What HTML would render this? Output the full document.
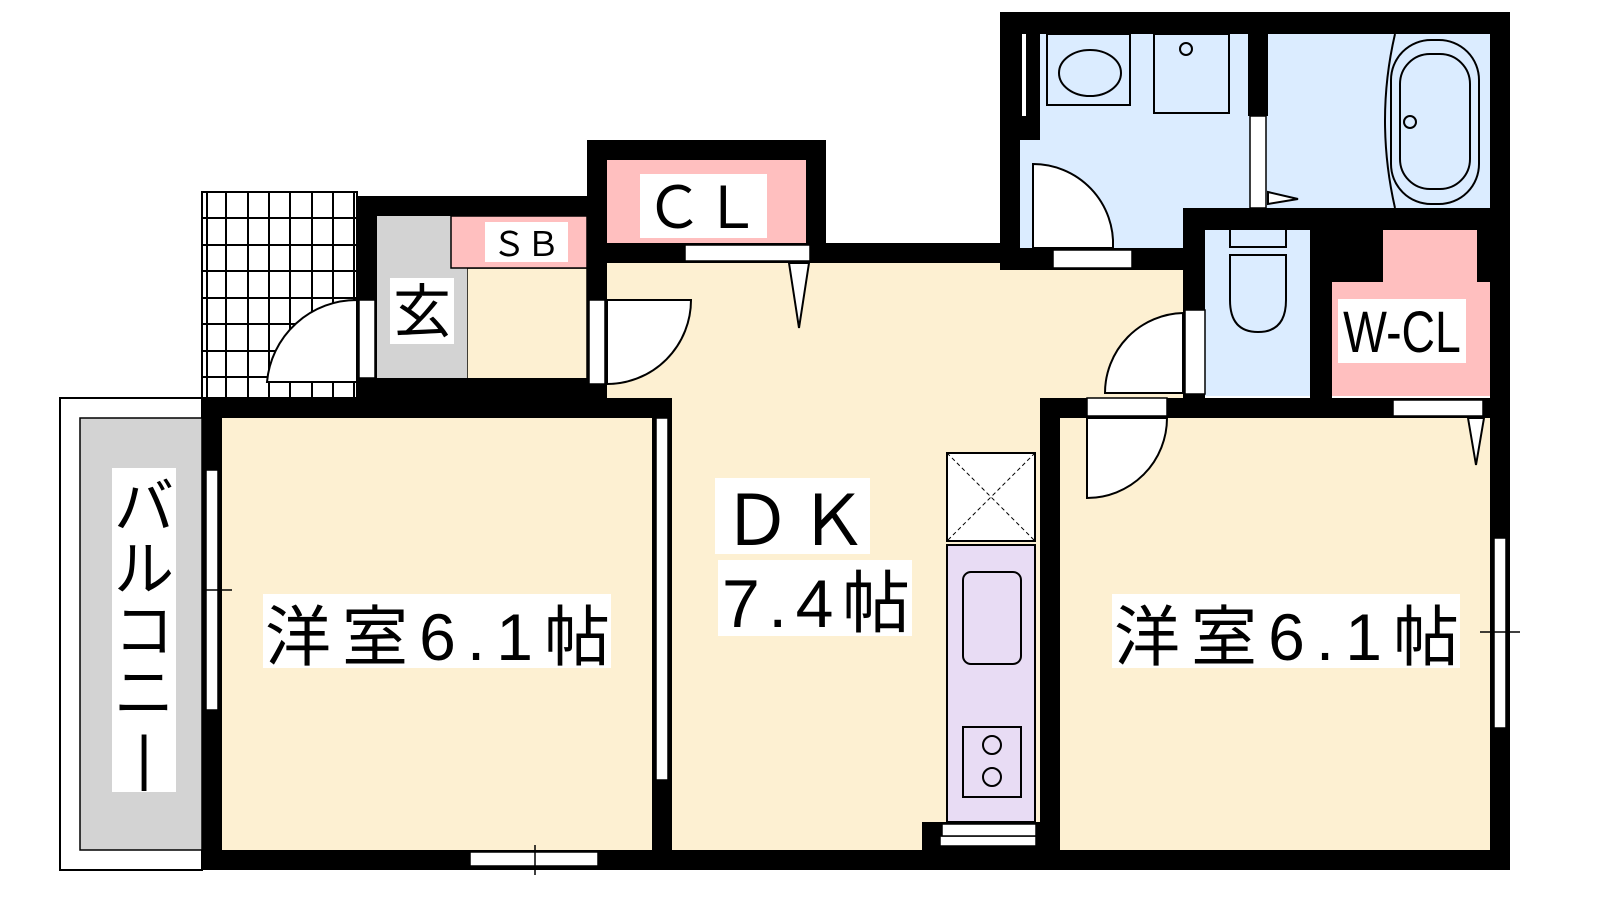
<!DOCTYPE html>
<html><head><meta charset="utf-8"><style>
body{margin:0;background:#fff;width:1600px;height:900px;overflow:hidden}
svg{display:block}
text{font-family:"Liberation Sans","Noto Sans CJK JP",sans-serif;fill:#000}
</style></head><body>
<svg width="1600" height="900" viewBox="0 0 1600 900" xmlns="http://www.w3.org/2000/svg">
<!-- balcony -->
<rect x="60" y="398" width="142" height="472" fill="#fff" stroke="#000" stroke-width="2"/>
<rect x="80" y="418" width="122" height="432" fill="#d3d3d3" stroke="#000" stroke-width="1.5"/>
<!-- grid -->
<g stroke="#000" stroke-width="2" fill="none">
<rect x="202" y="192" width="155" height="206" fill="#fff"/>
<path d="M207 192V398M226 192V398M248 192V398M269 192V398M290 192V398M312 192V398M333 192V398M354 192V398
M202 218H357M202 245H357M202 271H357M202 298H357M202 324H357M202 351H357M202 377H357"/>
</g>
<!-- floors -->
<rect x="222" y="418" width="430" height="432" fill="#fdf0d2"/>
<rect x="607" y="263" width="433" height="587" fill="#fdf0d2"/>
<rect x="607" y="263" width="576" height="135" fill="#fdf0d2"/>
<rect x="1060" y="418" width="430" height="432" fill="#fdf0d2"/>
<rect x="467" y="268" width="120" height="130" fill="#fdf0d2" stroke="#000" stroke-width="1.5"/>
<rect x="377" y="216" width="90" height="182" fill="#d3d3d3"/>
<rect x="451" y="216" width="136" height="52" fill="#ffbfbf" stroke="#000" stroke-width="1.5"/>
<rect x="607" y="160" width="199" height="83" fill="#ffbfbf"/>
<rect x="1020" y="34" width="470" height="214" fill="#dbecff"/>
<rect x="1205" y="230" width="105" height="166" fill="#dbecff"/>
<rect x="1332" y="282" width="158" height="114" fill="#ffbfbf"/>
<rect x="1383" y="230" width="94" height="52" fill="#ffbfbf"/>
<!-- kitchen -->
<rect x="947" y="453" width="88" height="88" fill="#fff" stroke="#000" stroke-width="2"/>
<path d="M947 453L1035 541M1035 453L947 541" stroke="#000" stroke-width="1" stroke-dasharray="4 3"/>
<rect x="947" y="545" width="88" height="277" fill="#e8dcf4" stroke="#000" stroke-width="2"/>
<rect x="963" y="572" width="58" height="92" rx="8" fill="none" stroke="#000" stroke-width="2"/>
<rect x="963" y="727" width="58" height="70" fill="none" stroke="#000" stroke-width="2"/>
<circle cx="992" cy="745" r="9" fill="none" stroke="#000" stroke-width="2"/>
<circle cx="992" cy="777" r="9" fill="none" stroke="#000" stroke-width="2"/>
<!-- bathroom fixtures -->
<g fill="none" stroke="#000" stroke-width="2">
<rect x="1047" y="34" width="83" height="71"/>
<ellipse cx="1090" cy="73" rx="31" ry="23"/>
<rect x="1154" y="34" width="75" height="79"/>
<circle cx="1186" cy="49" r="6"/>
<path d="M1395 34Q1375 120 1395 208"/>
<rect x="1391" y="40" width="88" height="164" rx="40"/>
<rect x="1400" y="54" width="70" height="135" rx="30"/>
<circle cx="1410" cy="122" r="6"/>
<path d="M1230 230V247H1286V230M1230 255H1286V300Q1286 332 1258 332Q1230 332 1230 300Z"/>
</g>
<!-- walls -->
<g fill="#000">
<rect x="202" y="398" width="470" height="20"/>
<rect x="202" y="398" width="20" height="472"/>
<rect x="202" y="850" width="1308" height="20"/>
<rect x="652" y="398" width="20" height="452"/>
<rect x="357" y="196" width="20" height="202"/>
<rect x="357" y="196" width="250" height="20"/>
<rect x="357" y="378" width="250" height="20"/>
<rect x="587" y="140" width="20" height="258"/>
<rect x="587" y="140" width="239" height="20"/>
<rect x="806" y="140" width="20" height="123"/>
<rect x="587" y="243" width="433" height="20"/>
<rect x="1000" y="12" width="510" height="22"/>
<rect x="1000" y="12" width="20" height="251"/>
<rect x="1000" y="12" width="40" height="128"/>
<rect x="1000" y="248" width="205" height="22"/>
<rect x="1248" y="34" width="20" height="82"/>
<rect x="1183" y="208" width="327" height="22"/>
<rect x="1183" y="208" width="22" height="210"/>
<rect x="1310" y="230" width="22" height="188"/>
<rect x="1332" y="230" width="51" height="52"/>
<rect x="1477" y="230" width="13" height="52"/>
<rect x="1490" y="12" width="20" height="858"/>
<rect x="1040" y="398" width="470" height="20"/>
<rect x="1040" y="398" width="20" height="452"/>
<rect x="922" y="822" width="118" height="28"/>
</g>
<!-- openings / windows -->
<g fill="#fff" stroke="#000" stroke-width="1.5">
<rect x="1022" y="34" width="4" height="82" stroke="none"/>
<rect x="206" y="470" width="12" height="240"/>
<rect x="656" y="418" width="12" height="362"/>
<rect x="1494" y="538" width="12" height="190"/>
<rect x="470" y="852" width="128" height="14"/>
<rect x="940" y="836" width="96" height="10"/>
<rect x="359" y="300" width="16" height="78"/>
<rect x="589" y="300" width="16" height="84"/>
<rect x="685" y="245" width="125" height="16"/>
<rect x="1053" y="250" width="79" height="18"/>
<rect x="1250" y="116" width="16" height="92"/>
<rect x="1185" y="310" width="20" height="84"/>
<rect x="1087" y="398" width="80" height="18"/>
<rect x="1393" y="400" width="90" height="16"/>
<rect x="942" y="824" width="94" height="12"/>
</g>
<!-- doors -->
<g fill="#fff" stroke="#000" stroke-width="2">
<path d="M357 300A90 90 0 0 0 267 382H357Z"/>
<path d="M607 300H691A84 84 0 0 1 607 384Z"/>
<path d="M1033 164A80 80 0 0 1 1113 248H1033Z"/>
<path d="M1183 313A80 80 0 0 0 1105 393H1183Z"/>
<path d="M1087 418V498A80 80 0 0 0 1167 418Z"/>
<path d="M789 263L799 328L809 263Z"/>
<path d="M1268 192L1298 199L1268 204Z"/>
<path d="M1468 418L1476 465L1484 418Z"/>
</g>
<path d="M202 590H232M1480 632H1520M535 845V875" stroke="#000" stroke-width="1.5"/>
<!-- labels -->
<rect x="263" y="594" width="348" height="74" fill="#fff"/>
<text x="265" y="660" font-size="66" textLength="345" lengthAdjust="spacing">洋室6.1帖</text>
<rect x="1112" y="594" width="348" height="74" fill="#fff"/>
<text x="1114" y="660" font-size="66" textLength="345" lengthAdjust="spacing">洋室6.1帖</text>
<rect x="715" y="478" width="155" height="76" fill="#fff"/>
<text x="722" y="545" font-size="70" textLength="146" lengthAdjust="spacing">ＤＫ</text>
<rect x="718" y="560" width="194" height="76" fill="#fff"/>
<text x="722" y="627" font-size="68" textLength="188" lengthAdjust="spacing">7.4帖</text>
<rect x="112" y="468" width="64" height="324" fill="#fff"/>
<text x="144" y="528" font-size="60" text-anchor="middle">バ</text>
<text x="144" y="590" font-size="60" text-anchor="middle">ル</text>
<text x="144" y="652" font-size="60" text-anchor="middle">コ</text>
<text x="144" y="714" font-size="60" text-anchor="middle">ニ</text>
<text x="144" y="778" font-size="60" text-anchor="middle">|</text>
<rect x="390" y="278" width="64" height="66" fill="#fff"/>
<text x="422" y="332" font-size="58" text-anchor="middle">玄</text>
<rect x="485" y="222" width="83" height="40" fill="#fff"/>
<text x="526" y="256" font-size="34" text-anchor="middle">ＳＢ</text>
<rect x="640" y="174" width="127" height="64" fill="#fff"/>
<text x="703" y="228" font-size="58" text-anchor="middle">ＣＬ</text>
<rect x="1338" y="299" width="128" height="64" fill="#fff"/>
<text x="1402" y="352" font-size="58" text-anchor="middle" transform="translate(1402,0) scale(0.8,1) translate(-1402,0)">W-CL</text>
</svg>
</body></html>
